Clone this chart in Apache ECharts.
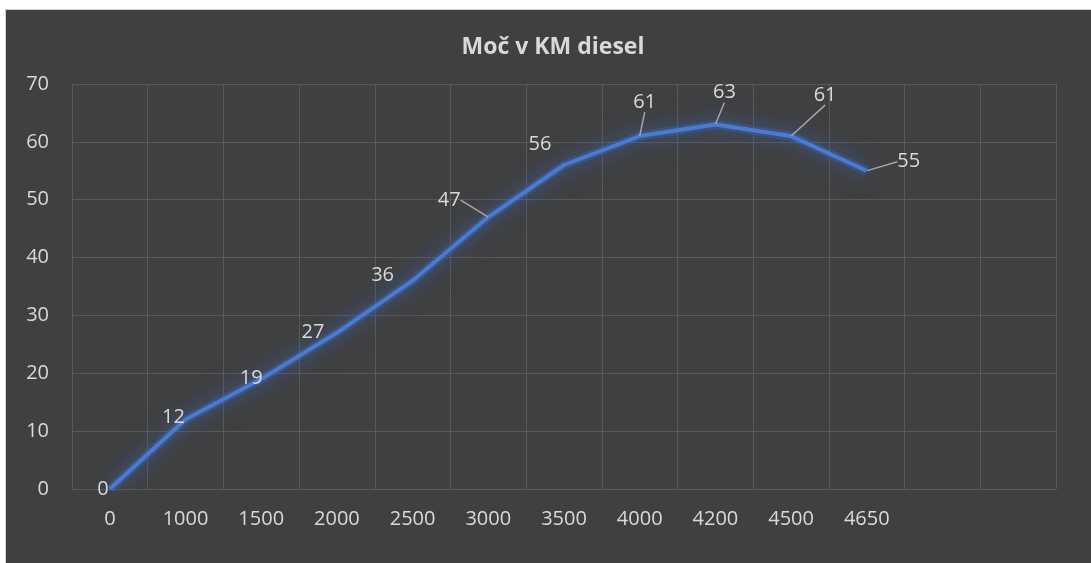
<!DOCTYPE html>
<html>
<head>
<meta charset="utf-8">
<script src="https://cdn.jsdelivr.net/npm/echarts@6/dist/echarts.min.js"></script>
<style>
  html, body { margin: 0; padding: 0; background: #ffffff; width: 1091px; height: 563px; overflow: hidden; }
  #frame { position: absolute; left: 5px; top: 9px; width: 1086px; height: 554px; border-left: 1px solid #d0d0d0; border-top: 1px solid #d0d0d0; box-sizing: border-box; }
  #chart { position: absolute; left: 6px; top: 10px; width: 1085px; height: 553px; }
</style>
</head>
<body>
<div id="frame"></div>
<div id="chart"></div>
<script>
// Data
const chartTitle = 'Moč v KM diesel';
const categories = ['0', '1000', '1500', '2000', '2500', '3000', '3500', '4000', '4200', '4500', '4650', '', ''];
const powerKM = [0, 12, 19, 27, 36, 47, 56, 61, 63, 61, 55];
const yTicks = { min: 0, max: 70, interval: 10 };

// Label placement (style, relative to point, px)
const labelShift = [[-7, 0], [-12, -2], [-10, -1], [-24, 0], [-30, -5], [-39, -17], [-24, -21], [5, -34], [9, -32], [34, -41], [42, -9]];
const withLeader = [false, false, false, false, false, true, false, true, true, true, true];

const chart = echarts.init(document.getElementById('chart'), null, { renderer: 'canvas' });
const font = '"Open Sans", sans-serif';
const textColor = '#d9d9d9';
const gridColor = '#5a5a5a';

const seriesData = powerKM.map((v, i) => ({
  value: v,
  labelLine: { show: withLeader[i] }
}));

chart.setOption({
  backgroundColor: '#404040',
  animation: false,
  title: {
    text: chartTitle,
    left: 542,
    textAlign: 'center',
    top: 21,
    textStyle: { color: '#d9d9d9', fontFamily: font, fontWeight: 'bold', fontSize: 23 }
  },
  grid: { left: 66, right: 35, top: 74, bottom: 74, containLabel: false },
  xAxis: {
    type: 'category',
    data: categories,
    boundaryGap: true,
    axisLine: { show: false },
    axisTick: { show: false },
    axisLabel: { color: textColor, fontFamily: font, fontSize: 20, margin: 20, interval: 0 },
    splitLine: { show: true, interval: 0, lineStyle: { color: gridColor, width: 1 } }
  },
  yAxis: {
    type: 'value',
    min: yTicks.min,
    max: yTicks.max,
    interval: yTicks.interval,
    axisLine: { show: false },
    axisTick: { show: false },
    axisLabel: { color: textColor, fontFamily: font, fontSize: 20, margin: 23 },
    splitLine: { show: true, lineStyle: { color: gridColor, width: 1 } }
  },
  series: [{
    // soft glow halo under the line
    type: 'line',
    data: powerKM,
    symbol: 'none',
    silent: true,
    z: 1,
    lineStyle: {
      color: 'rgba(62,100,175,0.4)',
      width: 9,
      shadowColor: 'rgba(62,100,175,1)',
      shadowBlur: 26
    },
    label: { show: false },
    tooltip: { show: false }
  }, {
    type: 'line',
    data: seriesData,
    z: 2,
    symbol: 'circle',
    symbolSize: 1,
    showSymbol: true,
    itemStyle: { color: 'rgba(0,0,0,0)' },
    lineStyle: {
      color: '#4a7bd2',
      width: 4,
      shadowColor: 'rgba(62,100,175,0.8)',
      shadowBlur: 16
    },
    label: {
      show: true,
      position: 'inside',
      color: textColor,
      fontFamily: font,
      fontSize: 20
    },
    labelLine: { show: false, lineStyle: { color: '#a6a6a6', width: 1.5 } },
    labelLayout: function (p) {
      const s = labelShift[p.dataIndex] || [0, 0];
      return { dx: s[0], dy: s[1] };
    }
  }]
});
</script>
</body>
</html>
